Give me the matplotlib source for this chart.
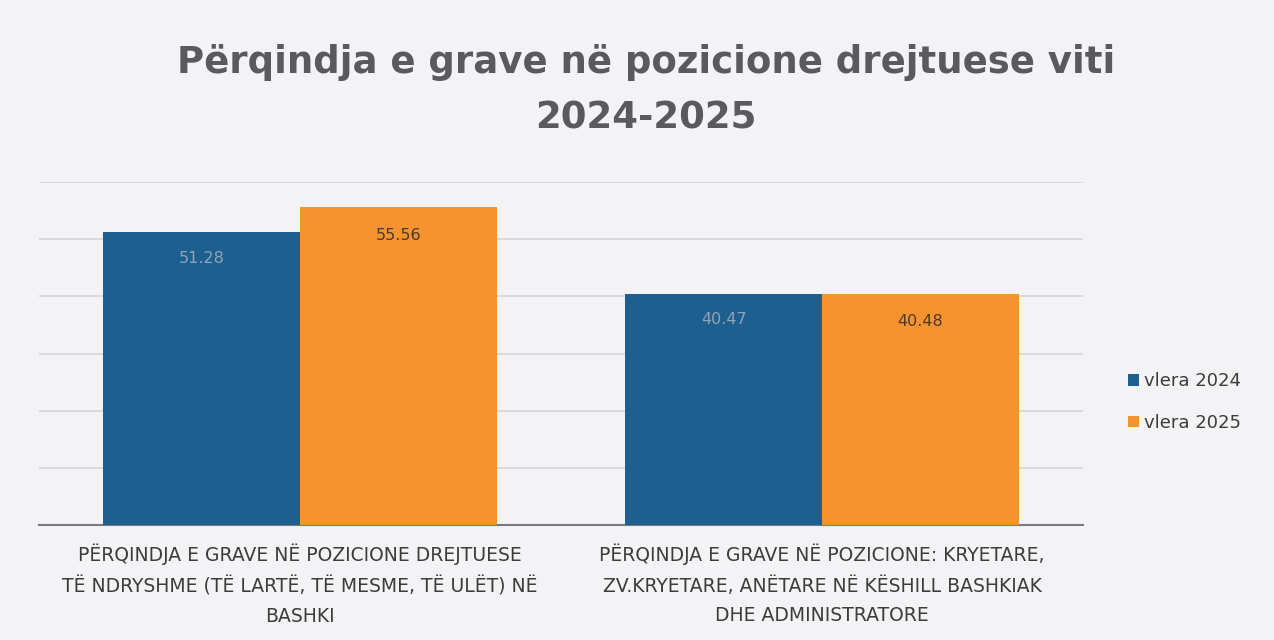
import matplotlib
matplotlib.use('Agg')
import matplotlib.pyplot as plt
import numpy as np

# data
categories = [
    'PËRQINDJA E GRAVE NË POZICIONE DREJTUESE\nTË NDRYSHME (TË LARTË, TË MESME, TË ULËT) NË\nBASHKI',
    'PËRQINDJA E GRAVE NË POZICIONE: KRYETARE,\nZV.KRYETARE, ANËTARE NË KËSHILL BASHKIAK\nDHE ADMINISTRATORE',
]
series_names = ['vlera 2024', 'vlera 2025']
values_2024 = [51.28, 40.47]
values_2025 = [55.56, 40.48]

blue = '#1d5f8e'
orange = '#f7932f'
bg = '#f3f3f6'

fig = plt.figure(figsize=(12.74, 6.4), dpi=100, facecolor=bg)
ax = fig.add_axes([39 / 1274, 1 - 525 / 640, (1083 - 39) / 1274, (525 - 182) / 640])
ax.set_facecolor(bg)

x = np.arange(len(categories))
w = 0.377
b1 = ax.bar(x - w / 2, values_2024, w, color=blue, label=series_names[0], zorder=3)
b2 = ax.bar(x + w / 2, values_2025, w, color=orange, label=series_names[1], zorder=3)

for r, v in zip(b1, values_2024):
    ax.text(r.get_x() + r.get_width() / 2, v - 4.6, f'{v:.2f}', ha='center', va='center',
            fontsize=11.5, color='#8fa3b8', zorder=4)
for r, v in zip(b2, values_2025):
    ax.text(r.get_x() + r.get_width() / 2, v - 4.9, f'{v:.2f}', ha='center', va='center',
            fontsize=11.5, color='#4a3a2a', zorder=4)

ax.set_xlim(-0.5, 1.5)
ax.set_ylim(0, 60)
ax.set_yticks(np.arange(0, 61, 10))
ax.yaxis.grid(True, color='#d6d6da', linewidth=1.2, zorder=0)
ax.tick_params(axis='y', left=False, labelleft=False)
ax.tick_params(axis='x', bottom=False, pad=10)
ax.set_xticks(x)
ax.set_xticklabels(categories, fontsize=13.5, color='#3c3c3c', linespacing=1.7)
for s in ['top', 'right', 'left']:
    ax.spines[s].set_visible(False)
ax.spines['bottom'].set_color('#7a7a7e')
ax.spines['bottom'].set_linewidth(1.5)

fig.text(0.507, 1 - 90 / 640, 'Përqindja e grave në pozicione drejtuese viti\n2024-2025',
         ha='center', va='center', fontsize=26.7, fontweight='bold', color='#5a5a5e',
         linespacing=1.65)

leg = fig.legend(loc='center left', bbox_to_anchor=(1112 / 1274, 1 - 402 / 640), frameon=False,
                 fontsize=13, handlelength=0.6, handleheight=0.6, handletextpad=0.3,
                 labelspacing=1.3, labelcolor='#3c3c3c')

fig.savefig('out.png', dpi=100, facecolor=bg)
